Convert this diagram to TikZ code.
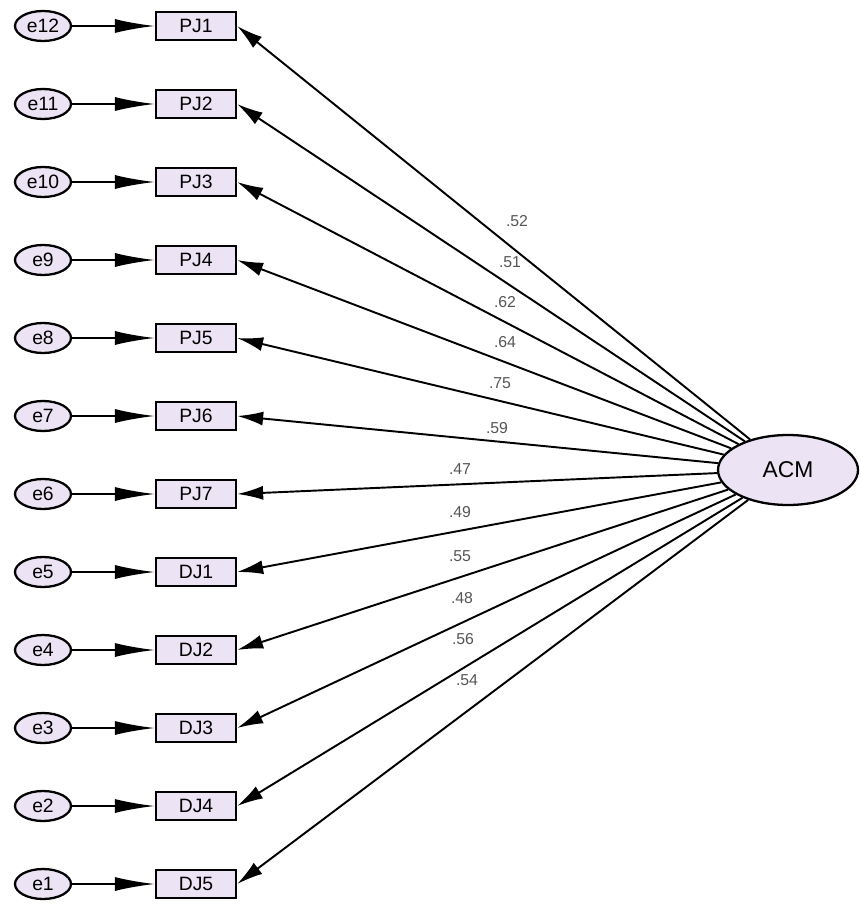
\documentclass[tikz,border=0pt]{standalone}
\usepackage{fontspec}
\setmainfont{Liberation Sans}
\usetikzlibrary{arrows.meta,shapes.geometric}
\definecolor{amosfill}{RGB}{236,228,244}
\definecolor{loadgray}{RGB}{85,85,85}
\begin{document}
\begin{tikzpicture}[
        x=0.02cm, y=-0.02cm,
        font=\fontsize{11}{13}\selectfont,
        err/.style={ellipse, draw, line width=1.3pt, fill=amosfill, minimum width=1.12cm, minimum height=0.6cm, inner sep=0pt},
        item/.style={rectangle, draw, line width=1.3pt, fill=amosfill, minimum width=1.6cm, minimum height=0.56cm, inner sep=0pt},
        factor/.style={ellipse, draw, line width=1.3pt, fill=amosfill, minimum width=2.8cm, minimum height=1.4cm, font=\fontsize{13}{15}\selectfont},
        errpath/.style={-{Latex[length=0.8cm,width=0.28cm]}, line width=1.1pt},
        loadpath/.style={-{Latex[length=0.52cm,width=0.28cm]}, line width=1.1pt},
        loading/.style={text=loadgray, font=\fontsize{9}{11}\selectfont}
    ]
        \useasboundingbox (0,0) rectangle (860,905);

        % Factor latente
        \node[factor] (acm) at (788,470) {ACM};

        % Errores, indicadores y cargas
        \foreach \e/\v/\lab/\lx/\ly [count=\i] in {
            12/PJ1/.52/517/221, 11/PJ2/.51/510/262, 10/PJ3/.62/505/302,
            9/PJ4/.64/505/342, 8/PJ5/.75/500/383, 7/PJ6/.59/497/428,
            6/PJ7/.47/460/469, 5/DJ1/.49/460/512, 4/DJ2/.55/460/556,
            3/DJ3/.48/462/598, 2/DJ4/.56/463/639, 1/DJ5/.54/467/680}{
            \node[err] (e\e) at (43,{26+(\i-1)*78}) {e\e};
            \node[item] (\v) at (196,{26+(\i-1)*78}) {\v};
            \draw[errpath] (e\e) -- (\v);
            \draw[loadpath] (acm) -- (\v.east);
            \node[loading] (l\i) at (\lx,\ly) {\lab};
        }

    \end{tikzpicture}
\end{document}
